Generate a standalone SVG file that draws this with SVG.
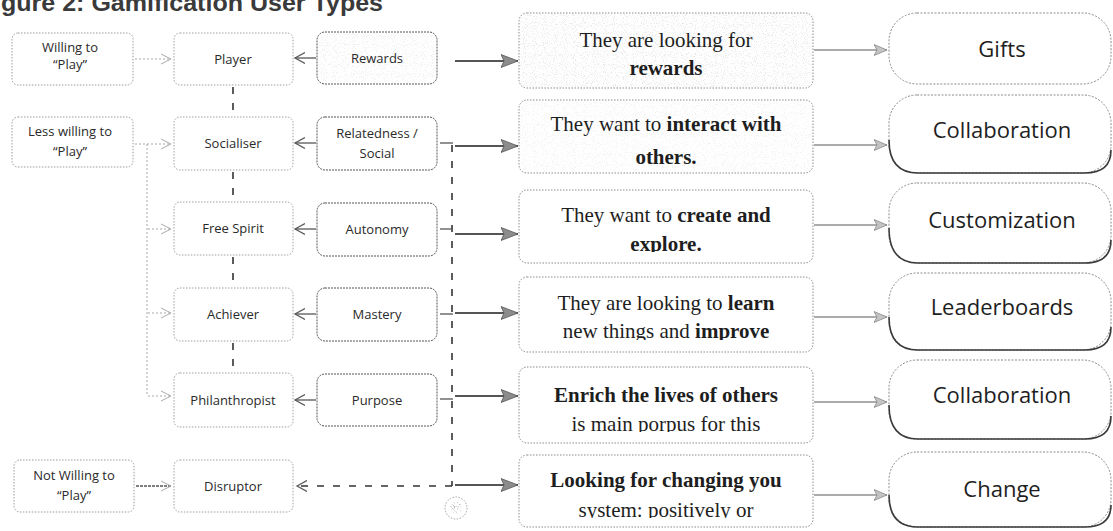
<svg xmlns="http://www.w3.org/2000/svg" width="1113" height="531" viewBox="0 0 1113 531">
  <style>
    .sm { font-family: "Open Sans", "Liberation Sans", sans-serif; font-size: 13px; fill: #2a2a2a; text-anchor: middle; }
    .big { font-family: "Open Sans", "Liberation Sans", sans-serif; font-size: 22px; fill: #1e1e1e; text-anchor: middle; }
    .desc { font-family: "Liberation Serif", "Times New Roman", serif; font-size: 21px; fill: #1e1e1e; text-anchor: middle; }
    .b { font-weight: bold; }
    .lbox { fill: #ffffff; stroke: #9a9a9a; stroke-width: 1; stroke-dasharray: 1.5 1.5; }
    .tbox { fill: #ffffff; stroke: #a0a0a0; stroke-width: 1; stroke-dasharray: 1.5 1.5; }
    .mbox { fill: #ffffff; stroke: #555555; stroke-width: 1; stroke-dasharray: 2 1; }
    .dbox { fill: #ffffff; stroke: #8a8a8a; stroke-width: 1; stroke-dasharray: 1.5 1.5; }
    .rbox { fill: #ffffff; stroke: #8a8a8a; stroke-width: 1; stroke-dasharray: 2 1.5; }
    .rshade { fill: none; stroke: #3a3a3a; stroke-width: 1.6; }
    .light { fill: none; stroke: #a8a8a8; stroke-width: 1; stroke-dasharray: 2 2; }
    .dark { fill: none; stroke: #555555; stroke-width: 1.3; }
    .vdash { fill: none; stroke: #333333; stroke-width: 1.6; stroke-dasharray: 7 9; }
    .main { fill: none; stroke: #555555; stroke-width: 2.2; }
    .thin { fill: none; stroke: #5a5a5a; stroke-width: 1.2; }
  </style>
  <defs>
    <marker id="openDark" markerUnits="userSpaceOnUse" markerWidth="12" markerHeight="12" refX="10" refY="6" orient="auto">
      <path d="M0,0.5 L10,6 L0,11.5" fill="none" stroke="#555" stroke-width="1.2"/>
    </marker>
    <marker id="openLight" markerUnits="userSpaceOnUse" markerWidth="12" markerHeight="12" refX="10" refY="6" orient="auto">
      <path d="M0,1 L10,6 L0,11" fill="none" stroke="#aaa" stroke-width="1"/>
    </marker>
    <marker id="solidBig" markerUnits="userSpaceOnUse" markerWidth="18" markerHeight="14" refX="17" refY="7" orient="auto">
      <path d="M0,0.5 L17,7 L0,13.5 L3,7 Z" fill="#8c8c8c" stroke="#555" stroke-width="0.8"/>
    </marker>
    <marker id="solidSmall" markerUnits="userSpaceOnUse" markerWidth="14" markerHeight="12" refX="13" refY="6" orient="auto">
      <path d="M0,0.5 L13,6 L0,11.5 L3,6 Z" fill="#c4c4c4" stroke="#888" stroke-width="0.8"/>
    </marker>
    <filter id="grain" x="0" y="0" width="100%" height="100%">
      <feTurbulence type="fractalNoise" baseFrequency="0.9" numOctaves="1" seed="7" result="n"/>
      <feColorMatrix in="n" type="matrix" values="0 0 0 0 0.5  0 0 0 0 0.5  0 0 0 0 0.5  5 0 0 0 -2.6" result="dots"/>
      <feComposite in="dots" in2="SourceGraphic" operator="in"/>
    </filter>
    <clipPath id="clip3"><rect x="519" y="190" width="294" height="62"/></clipPath>
    <clipPath id="clip4"><rect x="519" y="277" width="294" height="63"/></clipPath>
    <clipPath id="clip5"><rect x="519" y="367" width="294" height="65"/></clipPath>
    <clipPath id="clip6"><rect x="519" y="455" width="294" height="63"/></clipPath>
  </defs>

  <!-- heading, cropped at the page edge -->
  <text x="1" y="11" font-family="Liberation Sans, Arial, sans-serif" font-size="24" font-weight="bold" fill="#3a3a3a" textLength="382" lengthAdjust="spacingAndGlyphs">gure 2: Gamification User Types</text>

  <!-- connectors -->
  <g id="connectors">
    <!-- willingness to user type -->
    <path class="light" d="M135,59 H171" marker-end="url(#openLight)"/>
    <path class="light" d="M135,144 H171" marker-end="url(#openLight)"/>
    <path class="light" d="M147,144 V396"/>
    <path class="light" d="M148,229 H171" marker-end="url(#openLight)"/>
    <path class="light" d="M148,313 H171" marker-end="url(#openLight)"/>
    <path class="light" d="M148,396 H171" marker-end="url(#openLight)"/>
    <path class="dark" d="M136,486 H171" stroke-dasharray="3 1" marker-end="url(#openLight)"/>

    <!-- user type chain -->
    <path class="vdash" d="M233,87 V116"/>
    <path class="vdash" d="M233,172 V201"/>
    <path class="vdash" d="M233,257 V287"/>
    <path class="vdash" d="M233,343 V372"/>

    <!-- motivation to user type -->
    <path class="dark" d="M316,58 H295" marker-end="url(#openDark)"/>
    <path class="dark" d="M316,143 H295" marker-end="url(#openDark)"/>
    <path class="dark" d="M316,229 H295" marker-end="url(#openDark)"/>
    <path class="dark" d="M316,314 H295" marker-end="url(#openDark)"/>
    <path class="dark" d="M316,400 H295" marker-end="url(#openDark)"/>

    <!-- motivation bus and disruptor return -->
    <path class="vdash" d="M452,145 V486"/>
    <path class="dark" d="M440,143 H453"/>
    <path class="dark" d="M440,229 H453"/>
    <path class="dark" d="M440,314 H453"/>
    <path class="dark" d="M440,399 H453"/>
    <path class="vdash" d="M452,486 H297" stroke-width="1.4" stroke-dasharray="8 10" marker-end="url(#openDark)"/>

    <!-- to descriptions -->
    <path class="main" d="M455,61 H518" marker-end="url(#solidBig)"/>
    <path class="main" d="M455,146 H518" marker-end="url(#solidBig)"/>
    <path class="main" d="M455,234 H518" marker-end="url(#solidBig)"/>
    <path class="main" d="M455,313 H518" marker-end="url(#solidBig)"/>
    <path class="main" d="M455,396 H518" marker-end="url(#solidBig)"/>
    <path class="main" d="M455,485 H518" marker-end="url(#solidBig)"/>

    <!-- to game elements -->
    <path class="thin" d="M814,50 H887" marker-end="url(#solidSmall)"/>
    <path class="thin" d="M814,145 H887" marker-end="url(#solidSmall)"/>
    <path class="thin" d="M814,225 H887" marker-end="url(#solidSmall)"/>
    <path class="thin" d="M814,317 H887" marker-end="url(#solidSmall)"/>
    <path class="thin" d="M814,402 H887" marker-end="url(#solidSmall)"/>
    <path class="thin" d="M814,495 H887" marker-end="url(#solidSmall)"/>
  </g>

  <!-- willingness -->
  <g id="willing">
    <rect class="lbox" x="12" y="33" width="121" height="52" rx="6"/>
    <text class="sm" x="70" y="52">Willing to</text>
    <text class="sm" x="70" y="69">“Play”</text>
  </g>
  <g id="less-willing">
    <rect class="lbox" x="12" y="117" width="121" height="50" rx="6"/>
    <text class="sm" x="70" y="136">Less willing to</text>
    <text class="sm" x="70" y="156">“Play”</text>
  </g>
  <g id="not-willing">
    <rect class="lbox" x="14" y="460" width="120" height="52" rx="6" stroke="#777"/>
    <text class="sm" x="74" y="480">Not Willing to</text>
    <text class="sm" x="74" y="500">“Play”</text>
  </g>

  <!-- user types -->
  <g id="player">
    <rect class="tbox" x="174" y="33" width="119" height="52" rx="6"/>
    <text class="sm" x="233" y="63.5">Player</text>
  </g>
  <g id="socialiser">
    <rect class="tbox" x="174" y="117" width="119" height="53" rx="6"/>
    <text class="sm" x="233" y="148">Socialiser</text>
  </g>
  <g id="free-spirit">
    <rect class="tbox" x="174" y="202" width="119" height="53" rx="6"/>
    <text class="sm" x="233" y="233">Free Spirit</text>
  </g>
  <g id="achiever">
    <rect class="tbox" x="174" y="288" width="119" height="53" rx="6"/>
    <text class="sm" x="233" y="319">Achiever</text>
  </g>
  <g id="philanthropist">
    <rect class="tbox" x="174" y="373" width="119" height="54" rx="6"/>
    <text class="sm" x="233" y="404.5">Philanthropist</text>
  </g>
  <g id="disruptor">
    <rect class="tbox" x="174" y="460" width="119" height="52" rx="6" stroke="#888"/>
    <text class="sm" x="233" y="490.5">Disruptor</text>
  </g>

  <!-- motivations -->
  <g id="rewards">
    <rect class="mbox" x="317" y="32" width="120" height="52" rx="8" fill="#f6f6f6"/>
    <rect x="318" y="33" width="118" height="50" rx="8" fill="#000" filter="url(#grain)" opacity="0.25"/>
    <text class="sm" x="377" y="62.5">Rewards</text>
  </g>
  <g id="relatedness">
    <rect class="mbox" x="317" y="117" width="120" height="53" rx="8"/>
    <text class="sm" x="377" y="138">Relatedness /</text>
    <text class="sm" x="377" y="158">Social</text>
  </g>
  <g id="autonomy">
    <rect class="mbox" x="317" y="203" width="120" height="53" rx="8"/>
    <text class="sm" x="377" y="234">Autonomy</text>
  </g>
  <g id="mastery">
    <rect class="mbox" x="317" y="288" width="120" height="53" rx="8"/>
    <text class="sm" x="377" y="319">Mastery</text>
  </g>
  <g id="purpose">
    <rect class="mbox" x="317" y="374" width="120" height="52" rx="8"/>
    <text class="sm" x="377" y="404.5">Purpose</text>
  </g>

  <!-- descriptions -->
  <g id="desc-rewards">
    <rect class="dbox" x="519" y="13" width="294" height="75" rx="8" fill="#eeeeee"/>
    <rect x="520" y="14" width="292" height="73" rx="8" fill="#000" filter="url(#grain)" opacity="0.35"/>
    <text class="desc" x="666" y="47">They are looking for</text>
    <text class="desc b" x="666" y="75">rewards</text>
  </g>
  <g id="desc-social">
    <rect class="dbox" x="519" y="100" width="294" height="73" rx="8" fill="#f5f5f5"/>
    <rect x="520" y="101" width="292" height="71" rx="8" fill="#000" filter="url(#grain)" opacity="0.2"/>
    <text class="desc" x="666" y="131">They want to <tspan class="b">interact with</tspan></text>
    <text class="desc b" x="666" y="164">others.</text>
  </g>
  <g id="desc-autonomy">
    <rect class="dbox" x="519" y="190" width="294" height="73" rx="8"/>
    <g clip-path="url(#clip3)">
      <text class="desc" x="666" y="222">They want to <tspan class="b">create and</tspan></text>
      <text class="desc b" x="666" y="251">explore.</text>
    </g>
  </g>
  <g id="desc-mastery">
    <rect class="dbox" x="519" y="277" width="294" height="75" rx="8"/>
    <g clip-path="url(#clip4)">
      <text class="desc" x="666" y="310">They are looking to <tspan class="b">learn</tspan></text>
      <text class="desc" x="666" y="338">new things and <tspan class="b">improve</tspan></text>
    </g>
  </g>
  <g id="desc-purpose">
    <rect class="dbox" x="519" y="367" width="294" height="76" rx="8"/>
    <g clip-path="url(#clip5)">
      <text class="desc b" x="666" y="402">Enrich the lives of others</text>
      <text class="desc" x="666" y="431">is main porpus for this</text>
    </g>
  </g>
  <g id="desc-change">
    <rect class="dbox" x="519" y="455" width="294" height="72" rx="8"/>
    <g clip-path="url(#clip6)">
      <text class="desc b" x="666" y="487">Looking for changing you</text>
      <text class="desc" x="666" y="517">system: positively or</text>
    </g>
  </g>

  <!-- game elements -->
  <g id="gifts">
    <rect class="rbox" x="889" y="13" width="222" height="71" rx="28"/>
    <text class="big" x="1002" y="57">Gifts</text>
  </g>
  <g id="collaboration-1">
    <rect class="rbox" x="889" y="95" width="222" height="78" rx="28"/>
    <path class="rshade" d="M889,140 Q889,173 918,173 H1085 Q1111,173 1111,150"/>
    <text class="big" x="1002" y="138">Collaboration</text>
  </g>
  <g id="customization">
    <rect class="rbox" x="889" y="183" width="222" height="80" rx="28"/>
    <path class="rshade" d="M889,228 Q889,263 918,263 H1085 Q1111,263 1111,240"/>
    <text class="big" x="1002" y="228">Customization</text>
  </g>
  <g id="leaderboards">
    <rect class="rbox" x="889" y="273" width="222" height="77" rx="28"/>
    <path class="rshade" d="M889,317 Q889,350 918,350 H1085 Q1111,350 1111,327"/>
    <text class="big" x="1002" y="315">Leaderboards</text>
  </g>
  <g id="collaboration-2">
    <rect class="rbox" x="889" y="360" width="222" height="79" rx="28"/>
    <path class="rshade" d="M889,405 Q889,439 918,439 H1085 Q1111,439 1111,416"/>
    <text class="big" x="1002" y="403">Collaboration</text>
  </g>
  <g id="change">
    <rect class="rbox" x="889" y="452" width="222" height="75" rx="28"/>
    <path class="rshade" d="M889,495 Q889,527 918,527 H1085 Q1111,527 1111,505" stroke="#666" stroke-width="1.2"/>
    <text class="big" x="1002" y="497">Change</text>
  </g>

  <!-- small stamp below the bus -->
  <g id="stamp">
    <circle cx="456" cy="508" r="11" fill="none" stroke="#a0a0a0" stroke-width="1" stroke-dasharray="1.5 1.5"/>
    <circle cx="456" cy="508" r="6" fill="#9a9a9a" filter="url(#grain)"/>
  </g>
</svg>
